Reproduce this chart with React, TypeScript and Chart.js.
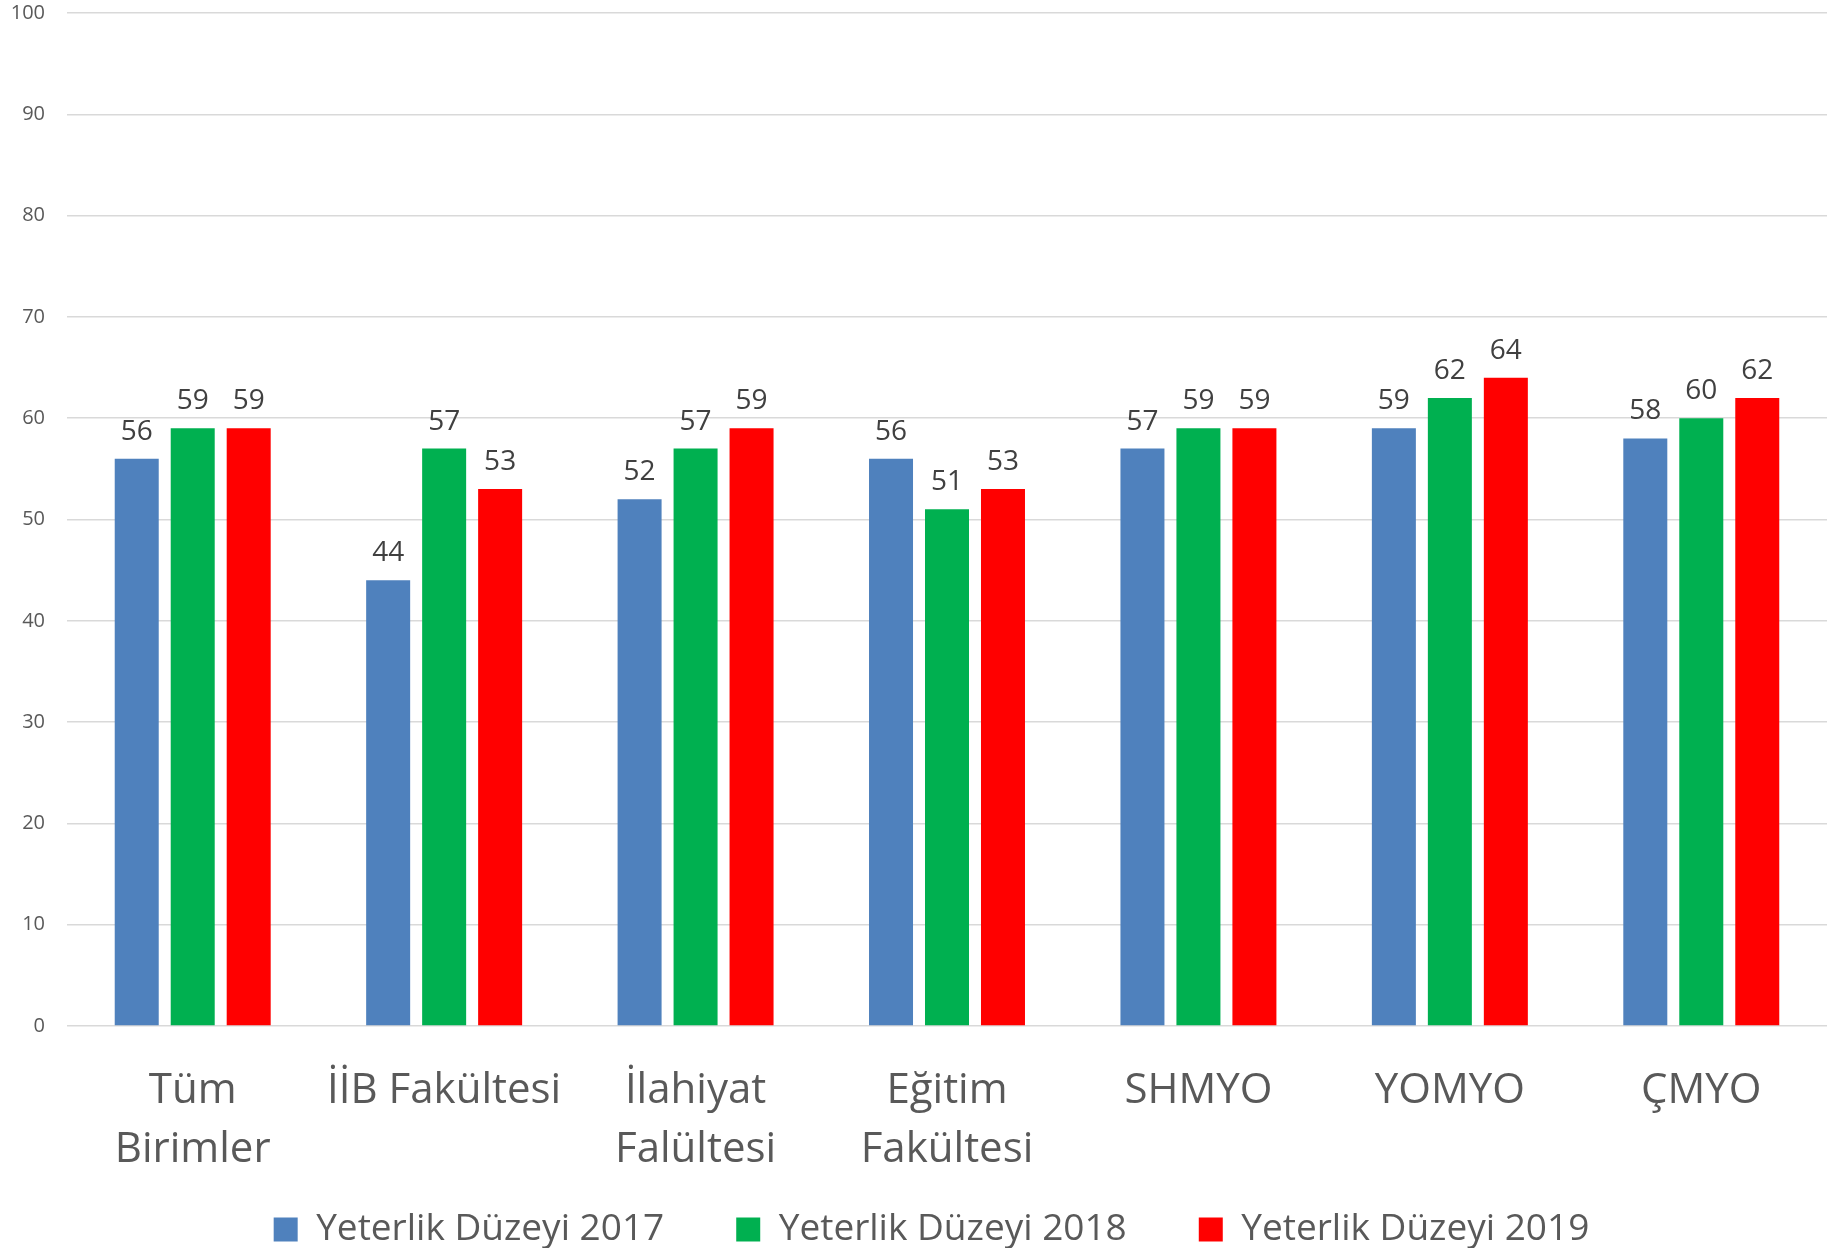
import React, { useEffect, useRef } from "react";
import { Chart, registerables } from "chart.js";

Chart.register(...registerables);

const categories: (string | string[])[] = [
  ["Tüm", "Birimler"],
  "İİB Fakültesi",
  ["İlahiyat", "Falültesi"],
  ["Eğitim", "Fakültesi"],
  "SHMYO",
  "YOMYO",
  "ÇMYO",
];
const seriesNames = ["Yeterlik Düzeyi 2017", "Yeterlik Düzeyi 2018", "Yeterlik Düzeyi 2019"];
const values2017 = [56, 44, 52, 56, 57, 59, 58];
const values2018 = [59, 57, 57, 51, 59, 62, 60];
const values2019 = [59, 53, 59, 53, 59, 64, 62];
const seriesColors = ["#4f81bd", "#00b050", "#ff0000"];
const yMin = 0;
const yMax = 100;
const yStep = 10;

const FONT = "'Open Sans', Lato, sans-serif";

const dataLabelPlugin = {
  id: "dataLabels",
  afterDatasetsDraw(chart: any) {
    const ctx = chart.ctx;
    ctx.save();
    ctx.font = `28px ${FONT}`;
    ctx.fillStyle = "#404040";
    ctx.textAlign = "center";
    ctx.textBaseline = "middle";
    chart.data.datasets.forEach((ds: any, i: number) => {
      const meta = chart.getDatasetMeta(i);
      meta.data.forEach((bar: any, j: number) => {
        ctx.fillText(String(ds.data[j]), bar.x, bar.y - 27);
      });
    });
    ctx.restore();
  },
};

const legendShiftPlugin = {
  id: "legendShift",
  afterLayout(chart: any) {
    const lg = chart.legend;
    if (lg) {
      lg.left += 18;
      lg.right += 18;
    }
  },
};

export default function App() {
  const ref = useRef<HTMLCanvasElement>(null);
  useEffect(() => {
    document.body.style.margin = "0";
    const canvas = ref.current!;
    const chart = new Chart(canvas, {
      type: "bar",
      data: {
        labels: categories,
        datasets: [values2017, values2018, values2019].map((d, i) => ({
          label: seriesNames[i],
          data: d,
          backgroundColor: seriesColors[i],
          borderWidth: 0,
          categoryPercentage: 0.668,
          barPercentage: 0.786,
        })),
      },
      options: {
        animation: false,
        responsive: false,
        maintainAspectRatio: false,
        layout: { padding: { top: 13, right: 6, left: 0, bottom: 0 } },
        plugins: {
          tooltip: { enabled: false },
          legend: {
            position: "bottom",
            align: "center",
            labels: {
              font: { family: FONT, size: 37 },
              color: "#595959",
              boxWidth: 24,
              boxHeight: 24,
              padding: 72,
            },
          },
        },
        scales: {
          x: {
            grid: { display: false, drawTicks: false },
            border: { display: false },
            ticks: {
              font: { family: FONT, size: 42, lineHeight: 1.4 },
              color: "#595959",
              padding: 36,
              maxRotation: 0,
              autoSkip: false,
            },
            afterFit: (s: any) => {
              s.height = 113;
              s._computeLabelArea = () => undefined;
            },
          },
          y: {
            min: yMin,
            max: yMax,
            ticks: {
              stepSize: yStep,
              font: { family: FONT, size: 20 },
              color: "#595959",
              padding: 22,
            },
            grid: { color: "#d9d9d9", lineWidth: 1.5, drawTicks: false },
            border: { display: false },
            afterFit: (s: any) => {
              s.width = 67;
              s.paddingTop = 0;
              s.paddingBottom = 0;
            },
          },
        },
      },
      plugins: [dataLabelPlugin, legendShiftPlugin],
    });
    const lg: any = (chart as any).legend;
    const origFit = lg.fit.bind(lg);
    lg.fit = function () {
      origFit();
      this.height = 109;
    };
    chart.update();
    return () => chart.destroy();
  }, []);
  return <canvas ref={ref} width={1833} height={1248} style={{ display: "block" }} />;
}
